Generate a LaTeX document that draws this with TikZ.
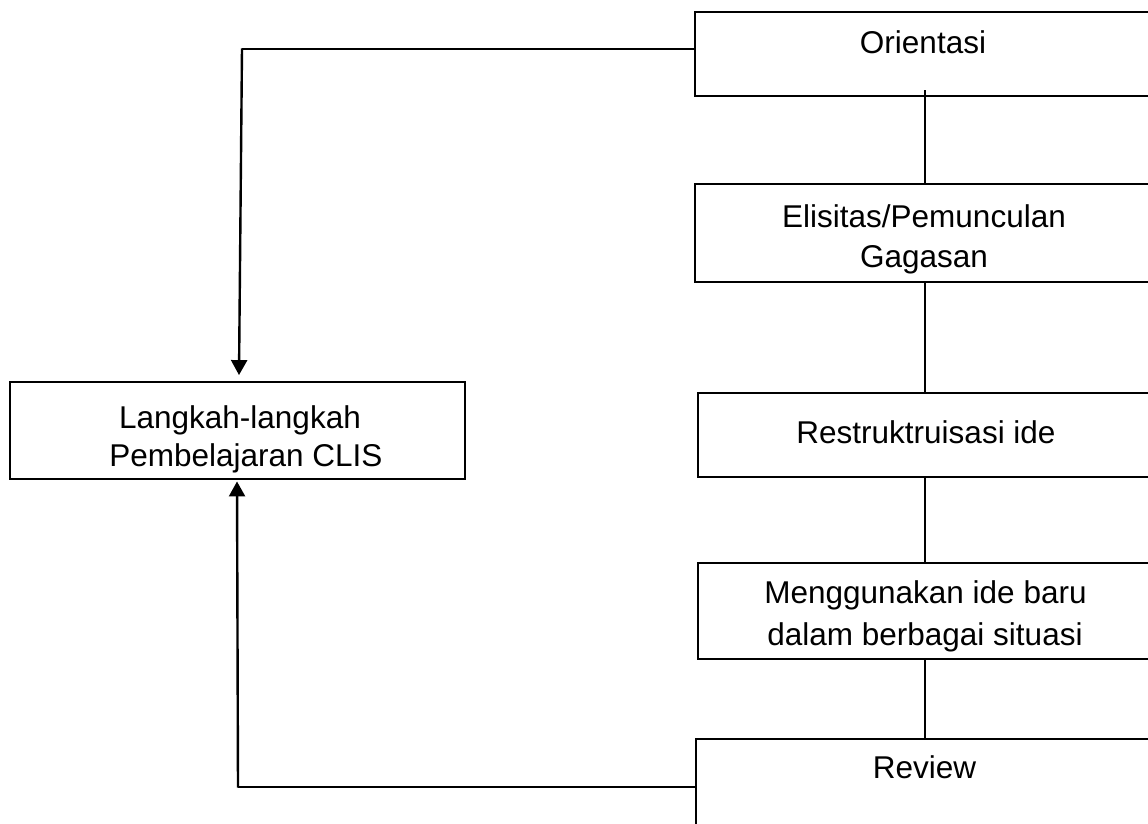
\documentclass[tikz,border=0pt]{standalone}
\usepackage{fontspec}
\setmainfont{Liberation Sans}
\usetikzlibrary{arrows.meta}
\begin{document}
\begin{tikzpicture}[x=1pt,y=-1pt,
  box/.style={draw,line width=1.9pt,rectangle,inner sep=0pt},
  lbl/.style={anchor=base,inner sep=0pt,font=\fontsize{31.5}{40}\selectfont},
  conn/.style={line width=1.7pt},
  hconn/.style={line width=1.5pt},
  arr/.style={line width=2.4pt,-{Triangle[length=15pt,width=16pt]}}]
\useasboundingbox (0,0) rectangle (1148,823);
\clip (0,0) rectangle (1148,823);
% right-hand boxes (run past the right edge)
\node[box,minimum width=465pt,minimum height=84pt] (o) at (927.5,54) {};
\node[box,minimum width=465pt,minimum height=98pt] (e) at (927.5,233) {};
\node[box,minimum width=463pt,minimum height=84pt] (r) at (929.5,435) {};
\node[box,minimum width=463pt,minimum height=96pt] (m) at (929.5,611) {};
\node[box,minimum width=465pt,minimum height=122pt] (v) at (928.5,800) {};
% left box
\node[box,minimum width=455pt,minimum height=97pt] (l) at (237.5,430.5) {};
% texts
\node[lbl] (to) at (923,53) {Orientasi};
\node[lbl] (te1) at (924,227) {Elisitas/Pemunculan};
\node[lbl] (te2) at (924,267) {Gagasan};
\node[lbl] (tr) at (926,443) {Restruktruisasi ide};
\node[lbl] (tm1) at (925.5,603) {Menggunakan ide baru};
\node[lbl] (tm2) at (925,645) {dalam berbagai situasi};
\node[lbl] (tv) at (924.5,778) {Review};
\node[lbl] (tl1) at (240,428) {Langkah-langkah};
\node[lbl] (tl2) at (246,466) {Pembelajaran CLIS};
% vertical chain
\coordinate (c1) at (925,90);
\draw[conn] (c1) -- (925,184);
\draw[conn] (925,282) -- (925,393);
\draw[conn] (925,477) -- (925,563);
\draw[conn] (925,659) -- (925,739);
% feedback arrows
\coordinate (tc) at (242,49);
\coordinate (bc) at (238,787);
\draw[hconn] ([yshift=5pt]o.west) -- (tc);
\draw[arr] ([yshift=0.7pt]tc) -- ([xshift=1.5pt,yshift=6pt]l.north);
\draw[hconn] ([yshift=13pt]v.west) -- (bc);
\draw[arr] ([yshift=-0.7pt]bc) -- ([xshift=-0.5pt,yshift=-1.5pt]l.south);
\end{tikzpicture}
\end{document}
